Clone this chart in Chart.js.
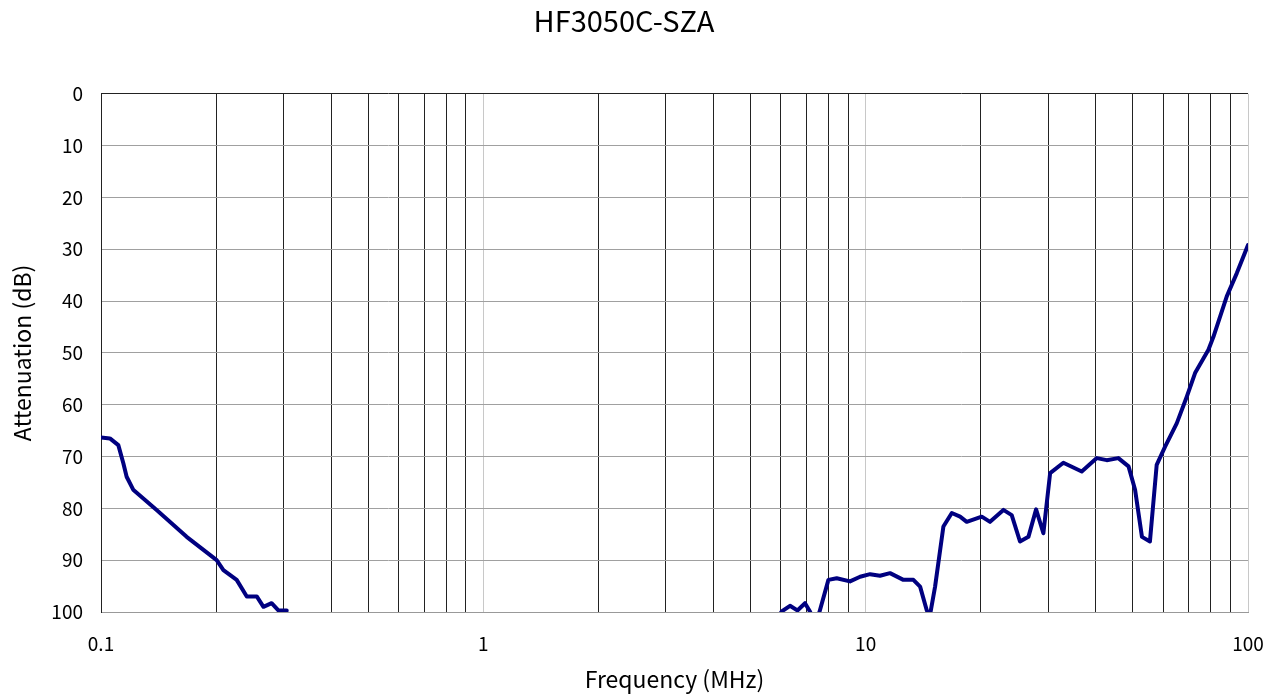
<!DOCTYPE html>
<html>
<head>
<meta charset="utf-8">
<script src="https://cdn.jsdelivr.net/npm/chart.js@4"></script>
<style>
  html, body { margin: 0; padding: 0; background: #fff; }
  #wrap { width: 1278px; height: 695px; }
</style>
</head>
<body>
<div id="wrap"><canvas id="attChart"></canvas></div>
<script>
// Reference data (MHz vs dB)
const chartTitle = 'HF3050C-SZA';
const freqMHz = [
    0.1, 0.1055, 0.111, 0.1144, 0.1167, 0.1214, 0.1398, 0.1675, 0.2007, 0.209,
    0.2264, 0.2406, 0.2555, 0.266, 0.2794, 0.291, 0.306, 0.32,
    5.9, 6.03, 6.34, 6.63, 6.94, 7.15, 7.35, 7.57, 7.99, 8.40,
    9.10, 9.67, 10.27, 10.9, 11.58, 12.55, 13.33, 13.88, 14.44, 14.7,
    15.19, 15.97, 16.8, 17.66, 18.38, 20.12, 21.15, 22.92, 24.1, 25.33,
    26.65, 27.91, 29.16, 30.37, 32.89, 36.74, 40.23, 42.7, 45.8, 48.7,
    50.66, 52.8, 55.4, 57.7, 60.7, 65.1, 69.2, 72.7, 78.8, 81.2,
    88.0, 93.5, 100
];
const attenuationDb = [
    66.3, 66.5, 67.8, 71.3, 73.9, 76.4, 80.3, 85.5, 90, 91.9,
    93.8, 97, 97, 99, 98.3, 99.7, 99.7, null,
    101, 99.9, 98.8, 99.7, 98.3, 99.9, 102, 100, 93.8, 93.5,
    94.1, 93.2, 92.7, 93.0, 92.5, 93.8, 93.8, 95.1, 99.6, 101,
    95.1, 83.5, 80.9, 81.6, 82.6, 81.6, 82.6, 80.3, 81.3, 86.4,
    85.5, 80.2, 84.8, 73.2, 71.2, 72.9, 70.3, 70.7, 70.3, 71.9,
    76.4, 85.5, 86.4, 71.6, 68.1, 63.6, 58.4, 53.9, 49.4, 46.9,
    39.1, 34.6, 29.2
];
const xTicks = [
    0.1, 0.2, 0.3, 0.4, 0.5, 0.6, 0.7, 0.8, 0.9,
    1, 2, 3, 4, 5, 6, 7, 8, 9,
    10, 20, 30, 40, 50, 60, 70, 80, 90, 100
];
const xTickLabels = ['0.1', '1', '10', '100'];

const FONT = "'Noto Sans CJK JP', 'Noto Sans', sans-serif";
const isDecade = v => xTickLabels.includes(String(v));

const points = freqMHz.map((f, i) => ({ x: f, y: attenuationDb[i] }));

new Chart(document.getElementById('attChart'), {
    type: 'line',
    data: {
        datasets: [{
            data: points,
            borderColor: '#000080',
            borderWidth: 4,
            pointRadius: 0,
            tension: 0,
            spanGaps: false,
            borderJoinStyle: 'round',
            borderCapStyle: 'round'
        }]
    },
    options: {
        responsive: true,
        maintainAspectRatio: false,
        animation: false,
        layout: { padding: { left: 0, right: 30, top: 0, bottom: 0 } },
        plugins: {
            legend: { display: false },
            tooltip: { enabled: false },
            title: {
                display: true,
                text: chartTitle,
                color: '#000',
                font: { family: FONT, size: 29, weight: 'normal' },
                padding: { top: 4, bottom: 55 }
            }
        },
        scales: {
            x: {
                type: 'logarithmic',
                min: 0.1,
                max: 100,
                afterBuildTicks: axis => { axis.ticks = xTicks.map(v => ({ value: v })); },
                afterFit: axis => {
                    axis.height = 83;
                    // keep the plot edge fixed; the layout padding already leaves room for "100"
                    axis.paddingLeft = 0;
                    axis.paddingRight = 0;
                },
                grid: {
                    drawTicks: false,
                    color: ctx => (ctx.tick && isDecade(ctx.tick.value) && ctx.tick.value !== 0.1) ? '#c8c8c8' : '#222',
                    lineWidth: 1
                },
                border: { display: true, color: '#999', width: 1 },
                ticks: {
                    autoSkip: false,
                    maxRotation: 0,
                    padding: 20,
                    color: '#000',
                    font: { family: FONT, size: 19 },
                    callback: v => isDecade(v) ? String(v) : ''
                },
                title: {
                    display: true,
                    text: 'Frequency (MHz)',
                    color: '#000',
                    font: { family: FONT, size: 23 },
                    padding: { top: 0, bottom: 2 }
                }
            },
            y: {
                reverse: true,
                min: 0,
                max: 100,
                afterFit: axis => { axis.width = 101; },
                grid: {
                    drawTicks: false,
                    color: ctx => (ctx.tick && ctx.tick.value === 0) ? '#222' : '#a0a0a0',
                    lineWidth: 1
                },
                border: { display: true, color: '#222', width: 1 },
                ticks: {
                    stepSize: 10,
                    padding: 18,
                    color: '#000',
                    font: { family: FONT, size: 19 }
                },
                title: {
                    display: true,
                    text: 'Attenuation (dB)',
                    color: '#000',
                    font: { family: FONT, size: 23 },
                    padding: { top: 8, bottom: 0 }
                }
            }
        }
    }
});
</script>
</body>
</html>
